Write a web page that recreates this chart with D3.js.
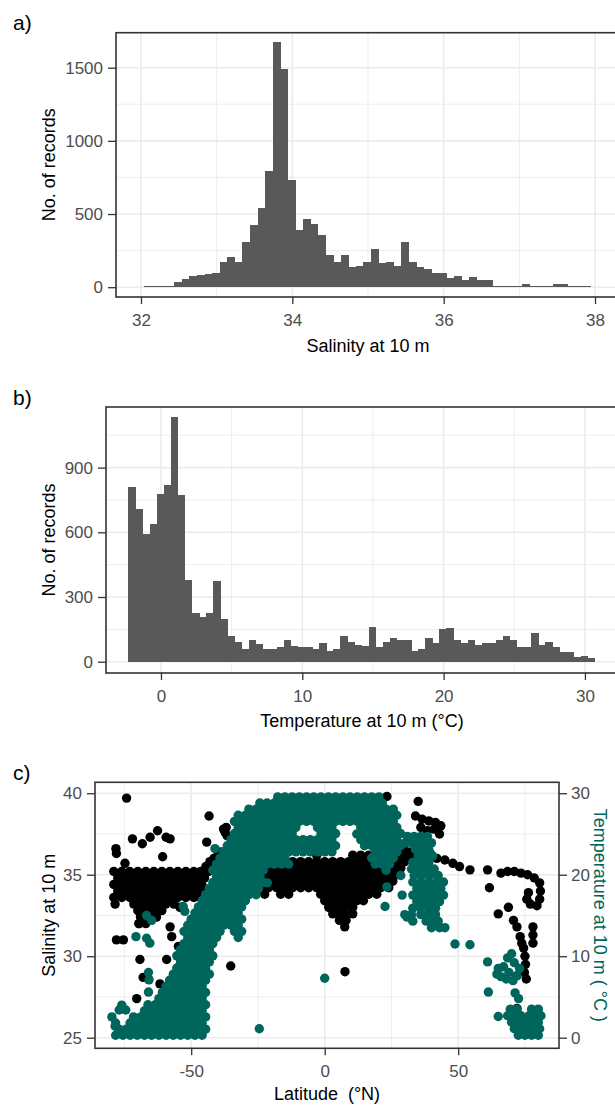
<!DOCTYPE html>
<html><head><meta charset="utf-8">
<script src="https://cdn.jsdelivr.net/npm/d3@7/dist/d3.min.js"></script>
<style>
html,body{margin:0;padding:0;background:#fff;}
svg{display:block;}
text{font-family:"Liberation Sans",Arial,Helvetica,sans-serif;white-space:pre;}
</style></head>
<body>
<svg id="chart" width="615" height="1105"></svg>
<script>
// ---------------- DATA ----------------
// a) salinity histogram
const salinityBinStart = 32.04;
const salinityBinWidth = 0.1;
const salinityCounts = [8,8,8,8,37,55,75,85,88,100,170,208,170,308,426,540,795,1673,1490,733,394,465,430,356,219,172,219,136,148,172,259,165,171,148,308,172,136,125,99,99,62,74,48,72,48,48,8,8,8,8,23,8,8,8,23,23,8,8,8];
const salinityTicks = [32,34,36,38];
const salinityMinor = [33,35,37];
const countTicksA = [0,500,1000,1500];
const countMinorA = [250,750,1250];

// b) temperature histogram
const temperatureBinStart = -2.3;
const temperatureBinWidth = 0.5;
const temperatureCounts = [812,706,590,640,779,821,1136,772,381,225,208,225,374,200,119,92,60,101,83,60,60,66,101,75,70,70,60,85,50,60,119,93,77,71,162,66,92,108,101,101,50,60,108,86,152,158,101,86,101,77,86,86,101,119,101,66,66,134,79,92,66,43,43,20,28,17];
const temperatureTicks = [0,10,20,30];
const temperatureMinor = [5,15,25];
const countTicksB = [0,300,600,900];
const countMinorB = [150,450,750,1050];

// c) scatter: salinity (black) rows [salinity, [latitudes]] + single points [lat, sal]
const salinityRows = [
 [35.2,[-79,-76,-73,-70,-67,-64,-61,-58,-55,-52,-49,-46.5]],
 [34.8,[-77.5,-74.5,-71.5,-68.5,-65.5,-62.5,-59.5,-56.5,-53.5,-50.5,-47.5,-45]],
 [34.4,[-79,-76,-73,-70,-67,-64,-61,-58,-55,-52,-49,-46]],
 [34.0,[-77.5,-74.5,-71.5,-68.5,-65.5,-62.5,-59.5,-56.5,-53.5,-50.5,-47.5,-45.5]],
 [33.6,[-79,-76,-73,-70,-67,-64,-61,-58,-55,-52,-49,-46.5]],
 [33.2,[-78.5,-71.5,-68.5,-65.5,-62.5,-59.5,-56.5]],
 [32.8,[-70,-67,-64,-61]],
 [32.4,[-69,-66,-63]],
 [32.0,[-69.5,-67]],
 [36.2,[-3,10.5,13.5,16.5,19.5,22.5,25.5,28.5,31.5]],
 [35.8,[-21,-18,-15,-12,-9,-6,-3,0,3,6,9,12,15,18,21,24,27,30]],
 [35.4,[-28.5,-25.5,-22.5,-19.5,-16.5,-13.5,-10.5,-7.5,-4.5,-1.5,1.5,4.5,7.5,10.5,13.5,16.5,19.5,22.5,25.5,28.5]],
 [35.0,[-30,-27,-24,-21,-18,-15,-12,-9,-6,-3,0,3,6,9,12,15,18,21,24,27]],
 [34.6,[-28.5,-25.5,-22.5,-19.5,-16.5,-13.5,-10.5,-7.5,-4.5,-1.5,1.5,4.5,7.5,10.5,13.5,16.5,19.5,22.5,25.5]],
 [34.2,[-30,-27,-24,-21,-18,-15,-12,-9,-6,-3,0,3,6,9,12,15,18,21,24]],
 [33.8,[-22.5,-16.5,-13.5,-1.5,1.5,4.5,7.5,10.5,13.5,16.5,19.5]],
 [33.4,[0,3,6,9,12,14.5]],
 [33.0,[1.5,4.5,7.5,10.5]],
 [32.6,[3,5.5,8,10.5]],
 [32.2,[5.5,8]],
 [31.8,[7.5]]
];
const salinitySingles = [
 [-74.2,39.7],[-43.3,38.6],[-37.3,37.6],[-37.9,37.8],[-36.6,37.4],[-36.9,37.9],[-62.6,37.7],[-65.4,37.3],
 [-72,37.2],[-68.3,36.9],[-59.4,37.3],[-57.9,37.2],[-44.2,37.0],[-78.2,36.6],[-78,36.3],[-74.8,35.7],
 [-60.7,36.1],[-57.9,31.8],[-57.3,31.2],[-78,31.0],[-75.4,31.0],[-69.2,29.8],[-59.2,29.8],[-54.8,30.6],
 [-68,28.7],[-66,28.6],[-61.7,28.3],[-70.4,27.4],[-35.2,29.4],[-54.2,33.0],[-69.6,32.0],
 [-44.5,35.5],[-43,35.8],[-41.5,36.0],[-40,36.2],[-38.8,36.4],[-43.5,35.2],[-42,35.5],
 [7.6,29.05],[23.3,39.8],[29.5,36.8],[27,36.6],
 [29,36.3],[31.5,36.4],[34,36.2],[35,39.5],[34,38.6],[36.5,38.4],[39,38.3],[41.5,38.2],[43.5,38.0],
 [36,37.9],[38.5,37.7],[41,37.8],[43,37.5],[39.5,36.3],[42,36.0],[45,35.9],[48,35.7],[50.5,35.5],
 [54.4,35.3],[61,35.3],[61.7,34.2],[65,32.6],[68.8,33.0],[66,35.1],[68.5,35.2],[71,35.2],[73.5,35.1],
 [76,35.0],[78.5,34.8],[80.5,34.5],[80.8,34.0],[80.5,33.5],[79.5,33.1],[75.7,33.5],[76.3,33.9],[77,33.2],
 [70.7,32.2],[72,31.8],[73.2,31.2],[73.8,30.8],[78,31.8],[78,31.3],[78,30.8],[74.5,30.5],[75,30.0],
 [75.2,29.5],[74.8,29.0],[75.5,28.6],[72,28.8],[72,26.8]
];

// c) scatter: temperature (teal) rows [temperature, [latitudes]] + single points [lat, temp]
const temperatureRows = [
 [0.3,[-78.3,-75.6,-72.9,-70.2,-67.5,-64.8,-62.1,-59.4,-56.7,-54,-51.3,-48.6,-45.9]],
 [1.05,[-77,-74.3,-71.6,-68.9,-66.2,-63.5,-60.8,-58.1,-55.4,-52.7,-50,-47.3,-44.6]],
 [1.8,[-78.3,-72.9,-70.2,-67.5,-64.8,-62.1,-59.4,-56.7,-54,-51.3,-48.6,-45.9]],
 [2.55,[-79.7,-71.6,-68.9,-66.2,-63.5,-60.8,-58.1,-55.4,-52.7,-50,-47.3,-44.6]],
 [3.3,[-67.5,-64.8,-62.1,-59.4,-56.7,-54,-51.3,-48.6,-45.9]],
 [4.05,[-66.2,-63.5,-60.8,-58.1,-55.4,-52.7,-50,-47.3,-44.6]],
 [4.8,[-62.1,-59.4,-56.7,-54,-51.3,-48.6,-45.9]],
 [5.55,[-60.8,-58.1,-55.4,-52.7,-50,-47.3,-44.6]],
 [6.3,[-59.4,-56.7,-54,-51.3,-48.6,-45.9]],
 [7.05,[-58.1,-55.4,-52.7,-50,-47.3,-44.6]],
 [7.8,[-56.7,-54,-51.3,-48.6,-45.9,-43.2]],
 [8.55,[-55.4,-52.7,-50,-47.3,-44.6]],
 [9.3,[-54,-51.3,-48.6,-45.9,-43.2]],
 [10.05,[-55.4,-52.7,-50,-47.3,-44.6,-41.9]],
 [10.8,[-54,-51.3,-48.6,-45.9,-43.2]],
 [11.55,[-52.7,-50,-47.3,-44.6,-41.9]],
 [12.3,[-51.3,-48.6,-45.9,-43.2,-40.5,-32.4]],
 [13.05,[-52.7,-50,-47.3,-44.6,-41.9,-39.2,-33.8,-31.1]],
 [13.8,[-51.3,-48.6,-45.9,-43.2,-40.5,-37.8,-35.1,-32.4]],
 [14.55,[-50,-47.3,-44.6,-41.9,-39.2,-36.5,-33.8,-31.1]],
 [15.3,[-48.6,-45.9,-43.2,-40.5,-37.8,-35.1,-32.4]],
 [16.05,[-47.3,-44.6,-41.9,-39.2,-36.5,-33.8,-31.1]],
 [16.8,[-45.9,-43.2,-40.5,-37.8,-35.1,-32.4,-29.7]],
 [17.55,[-44.6,-41.9,-39.2,-36.5,-33.8,-31.1,-28.4,-25.7]],
 [18.3,[-43.2,-40.5,-37.8,-35.1,-32.4,-29.7,-27]],
 [19.05,[-41.9,-39.2,-36.5,-33.8,-31.1,-28.4,-25.7,-23]],
 [19.8,[-40.5,-37.8,-35.1,-32.4,-29.7,-27,-24.3]],
 [20.55,[-41.9,-39.2,-36.5,-33.8,-31.1,-28.4,-25.7,-23,23]],
 [21.3,[-40.5,-37.8,-35.1,-32.4,-29.7,-27,-24.3,-21.6,-18.9,-16.2,-13.5,18.9,21.6,24.3]],
 [22.05,[-39.2,-36.5,-33.8,-31.1,-28.4,-25.7,-23,-20.3,-17.6,-14.9,17.6,20.3,23,25.7]],
 [22.8,[-37.8,-35.1,-32.4,-29.7,-27,-24.3,-21.6,-18.9,-16.2,-13.5,-10.8,-8.1,-5.4,-2.7,0,2.7,18.9,21.6,24.3,27]],
 [23.55,[-36.5,-33.8,-31.1,-28.4,-25.7,-23,-20.3,-17.6,-14.9,-12.2,-9.5,-6.8,-4.1,-1.4,1.4,4.1,14.9,17.6,20.3,23,25.7,28.4]],
 [24.3,[-35.1,-32.4,-29.7,-27,-24.3,-21.6,-18.9,-16.2,-13.5,-10.8,-8.1,-5.4,-2.7,0,2.7,13.5,16.2,18.9,21.6,24.3,27]],
 [25.05,[-33.8,-31.1,-28.4,-25.7,-23,-20.3,-17.6,-14.9,-12.2,-1.4,1.4,4.1,14.9,17.6,20.3,23,25.7,28.4]],
 [25.8,[-32.4,-29.7,-27,-24.3,-21.6,-18.9,-16.2,-13.5,-10.8,-2.7,0,2.7,13.5,16.2,18.9,21.6,24.3,27]],
 [26.55,[-33.8,-31.1,-28.4,-25.7,-23,-20.3,-17.6,-14.9,-12.2,-9.5,-6.8,-4.1,-1.4,1.4,4.1,6.8,9.5,12.2,14.9,17.6,20.3,23,25.7]],
 [27.3,[-32.4,-29.7,-27,-24.3,-21.6,-18.9,-16.2,-13.5,-10.8,-8.1,-5.4,-2.7,0,2.7,5.4,8.1,10.8,13.5,16.2,18.9,21.6,24.3,27]],
 [28.05,[-28.4,-25.7,-23,-20.3,-17.6,-14.9,-12.2,-9.5,-6.8,-4.1,-1.4,1.4,4.1,6.8,9.5,12.2,14.9,17.6,20.3,23,25.7]],
 [28.8,[-24.3,-21.6,-18.9,-16.2,-13.5,-10.8,-8.1,-5.4,-2.7,0,2.7,5.4,8.1,10.8,13.5,16.2,18.9,21.6]],
 [29.55,[-17.6,-14.9,-12.2,-9.5,-6.8,-4.1,-1.4,1.4,4.1,6.8,9.5,12.2,14.9,17.6,20.3]]
];
const temperatureRowsNorth = [
 [24.7,[31,33.5,36,38.5]],
 [23.9,[30,32.5,35,37.5,40]],
 [23.1,[34,36.5,39]],
 [22.3,[35,37.5,40.5]],
 [21.5,[33,36,39]],
 [20.7,[32.5,35,38,41]],
 [19.9,[28.5,33.5,36.5,39.5,42.5]],
 [19.1,[33,36,39,42,44.5]],
 [18.3,[34.5,37.5,40.5,43.5]],
 [17.5,[29,33,36,39,42,44.5]],
 [16.7,[34.5,37.5,40,43]],
 [15.9,[33,36,39,41.5]],
 [15.1,[30,32.5,36,38.5,41.5]],
 [14.3,[33,38,40.5,42.5]],
 [13.5,[40,43,45]],
 [3.5,[69.5,72,77.5,80]],
 [2.7,[68.5,71,73.5,76.5,79,81]],
 [1.9,[70,72.5,75,77.5,80]],
 [1.1,[71,73.5,76,78.5,80.5]],
 [0.3,[72.5,75,77.5,80]]
];
const temperatureSingles = [
 [-66.7,15],[-64.8,14.4],[-53,16.1],[-52.4,15.5],[-70.7,12.4],[-66.7,12.2],[-65.5,11.6],[-66,8],
 [-65.8,7.1],[-66,5.6],[-76,4],[-77,3.4],[-74.5,3.4],[-78.5,1.4],[-41.1,23.2],[-24.8,18.3],[-24.5,1.1],
 [-21.5,19],[0,7.3],[12,25],[23.3,18.5],[22.6,16.1],[30.8,14.8],
 [48.8,11.5],[54.4,11.4],[61,9.3],[61.3,5.6],[65,2.6],[71.3,5.5],[72.6,4.8],[65,8.5],[67,8.7],
 [68.5,9.8],[70,10.3],[71,9.2],[69,8.0],[72,7.6],[66,7.5],[70.5,7.0],[68,7.2],[73,8.5],[64.5,7.8]
];
const latitudeTicks = [-50,0,50];
const latitudeMinor = [-75,-25,25,75];
const salinityTicksC = [25,30,35,40];
const salinityMinorC = [27.5,32.5,37.5];
const temperatureTicksC = [0,10,20,30];

// ---------------- DRAWING ----------------
const svg = d3.select('#chart');
const defs = svg.append('defs');
const GRID = '#EBEBEB', FRAME = '#333333', TICKTXT = '#4D4D4D', BAR = '#595959', TEAL = '#00665C';

function styleAxis(g){
  g.select('.domain').remove();
  g.selectAll('.tick line').attr('stroke', FRAME).attr('stroke-width', 1.3);
  g.selectAll('.tick text').attr('fill', TICKTXT).style('font-size', '17px');
}

function panel(o){
  const [l, r] = o.x.range();
  const [b, t] = o.y.range();
  defs.append('clipPath').attr('id', 'clip' + o.id).append('rect')
    .attr('x', l).attr('y', t).attr('width', r - l).attr('height', b - t);
  const g = svg.append('g');
  const grid = g.append('g').attr('clip-path', `url(#clip${o.id})`);
  grid.selectAll('.vmin').data(o.xMinor).join('line')
    .attr('x1', d => o.x(d)).attr('x2', d => o.x(d)).attr('y1', t).attr('y2', b)
    .attr('stroke', GRID).attr('stroke-width', 0.9);
  grid.selectAll('.hmin').data(o.yMinor).join('line')
    .attr('y1', d => o.y(d)).attr('y2', d => o.y(d)).attr('x1', l).attr('x2', r)
    .attr('stroke', GRID).attr('stroke-width', 0.9);
  grid.selectAll('.vmaj').data(o.xMajor).join('line')
    .attr('x1', d => o.x(d)).attr('x2', d => o.x(d)).attr('y1', t).attr('y2', b)
    .attr('stroke', GRID).attr('stroke-width', 1.6);
  grid.selectAll('.hmaj').data(o.yMajor).join('line')
    .attr('y1', d => o.y(d)).attr('y2', d => o.y(d)).attr('x1', l).attr('x2', r)
    .attr('stroke', GRID).attr('stroke-width', 1.6);
  const plot = g.append('g').attr('clip-path', `url(#clip${o.id})`);
  const frame = g.append('g');
  frame.append('rect').attr('x', l).attr('y', t).attr('width', r - l).attr('height', b - t)
    .attr('fill', 'none').attr('stroke', FRAME).attr('stroke-width', 1.6);
  const ax = frame.append('g').attr('transform', `translate(0,${b})`)
    .call(d3.axisBottom(o.x).tickValues(o.xMajor).tickSize(7).tickPadding(10).tickSizeOuter(0).tickFormat(d => String(d)));
  styleAxis(ax);
  const ay = frame.append('g').attr('transform', `translate(${l},0)`)
    .call(d3.axisLeft(o.y).tickValues(o.yMajor).tickSize(8).tickPadding(5).tickSizeOuter(0).tickFormat(d => String(d)));
  styleAxis(ay);
  frame.append('text').attr('x', (l + Math.min(r, 620)) / 2).attr('y', b + o.xTitleDy)
    .attr('text-anchor', 'middle').style('font-size', '18px').attr('fill', '#000').text(o.xTitle);
  frame.append('text').attr('transform', `translate(55,${(t + b) / 2}) rotate(-90)`)
    .attr('text-anchor', 'middle').style('font-size', '18px').attr('fill', '#000').text(o.yTitle);
  frame.append('text').attr('x', 13).attr('y', t - 2.5).style('font-size', '21px').attr('fill', '#000').text(o.tag);
  return {plot, frame};
}

// ---- panel a ----
const xA = d3.scaleLinear().domain([31.67, 38.33]).range([116, 620]);
const yA = d3.scaleLinear().domain([-67, 1739]).range([297, 32.7]);
const pA = panel({id: 'a', x: xA, y: yA, xMajor: salinityTicks, xMinor: salinityMinor,
  yMajor: countTicksA, yMinor: countMinorA, xTitle: 'Salinity at 10 m', yTitle: 'No. of records',
  tag: 'a)', xTitleDy: 55});
const binsA = salinityCounts.map((c, i) => ({x0: salinityBinStart + i * salinityBinWidth, x1: salinityBinStart + (i + 1) * salinityBinWidth, c}));
pA.plot.selectAll('rect').data(binsA).join('rect')
  .attr('x', d => xA(d.x0)).attr('width', d => xA(d.x1) - xA(d.x0) + 0.4)
  .attr('y', d => yA(d.c)).attr('height', d => yA(0) - yA(d.c)).attr('fill', BAR)
  .attr('shape-rendering', 'crispEdges');

// ---- panel b ----
const xB = d3.scaleLinear().domain([-3.89, 32.34]).range([106, 618]);
const yB = d3.scaleLinear().domain([-52.4, 1181]).range([673, 407]);
const pB = panel({id: 'b', x: xB, y: yB, xMajor: temperatureTicks, xMinor: temperatureMinor,
  yMajor: countTicksB, yMinor: countMinorB, xTitle: 'Temperature at 10 m (°C)', yTitle: 'No. of records',
  tag: 'b)', xTitleDy: 54});
const binsB = temperatureCounts.map((c, i) => ({x0: temperatureBinStart + i * temperatureBinWidth, x1: temperatureBinStart + (i + 1) * temperatureBinWidth, c}));
pB.plot.selectAll('rect').data(binsB).join('rect')
  .attr('x', d => xB(d.x0)).attr('width', d => xB(d.x1) - xB(d.x0) + 0.4)
  .attr('y', d => yB(d.c)).attr('height', d => yB(0) - yB(d.c)).attr('fill', BAR)
  .attr('shape-rendering', 'crispEdges');

// ---- panel c ----
const xC = d3.scaleLinear().domain([-86.03, 87.75]).range([95, 559]);
const yS = d3.scaleLinear().domain([24.35, 40.67]).range([1048.3, 782.3]);
const yT = d3.scaleLinear().domain([(24.35 - 25) * 2, (40.67 - 25) * 2]).range([1048.3, 782.3]);
const pC = panel({id: 'c', x: xC, y: yS, xMajor: latitudeTicks, xMinor: latitudeMinor,
  yMajor: salinityTicksC, yMinor: salinityMinorC, xTitle: 'Latitude  (°N)', yTitle: 'Salinity at 10 m',
  tag: 'c)', xTitleDy: 52});
const blackPts = salinityRows.flatMap(([s, lats]) => lats.map(la => [la, s])).concat(salinitySingles);
const tealPts = temperatureRows.concat(temperatureRowsNorth).flatMap(([tv, lats]) => lats.map(la => [la, tv])).concat(temperatureSingles);
pC.plot.append('g').selectAll('circle').data(blackPts).join('circle')
  .attr('cx', d => xC(d[0])).attr('cy', d => yS(d[1])).attr('r', 4.7).attr('fill', '#000');
pC.plot.append('g').selectAll('circle').data(tealPts).join('circle')
  .attr('cx', d => xC(d[0])).attr('cy', d => yT(d[1])).attr('r', 4.7).attr('fill', TEAL);
const ar = pC.frame.append('g').attr('transform', 'translate(559,0)')
  .call(d3.axisRight(yT).tickValues(temperatureTicksC).tickSize(8).tickPadding(4).tickSizeOuter(0).tickFormat(d => String(d)));
styleAxis(ar);
pC.frame.append('text').attr('transform', `translate(594,${(782.3 + 1048.3) / 2}) rotate(90)`)
  .attr('text-anchor', 'middle').style('font-size', '18px').attr('fill', TEAL).text('Temperature at 10 m ( °C )');
</script>
</body></html>
